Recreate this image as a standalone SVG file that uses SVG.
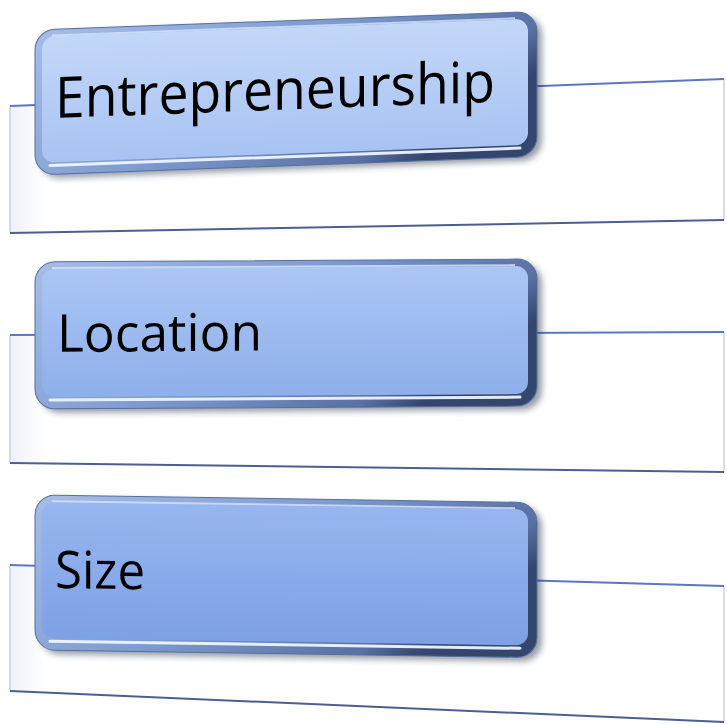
<svg xmlns="http://www.w3.org/2000/svg" width="727" height="724" viewBox="0 0 727 724">
  <style>
    .panel { fill: url(#panelFill); stroke: none; }
    .ptop { stroke: #5a78bd; stroke-width: 2; fill: none; }
    .pbot { stroke: #4b5f90; stroke-width: 2; fill: none; }
    .pside { stroke: #c9d1e0; stroke-width: 1.5; fill: none; }
    .bezel { fill: url(#bezel); stroke: #56709f; stroke-width: 1; }
    .shadow { fill: #1d2840; opacity: 0.45; filter: url(#blur); }
    .hl { fill: none; stroke: #eef4ff; stroke-width: 3; stroke-linecap: round; opacity: 0.95; }
    .hlTop { fill: none; stroke: #d6e3fa; stroke-width: 2; opacity: 0.8; }
    .label { font-family: "Open Sans", "Noto Sans", "Liberation Sans", sans-serif; fill: #000; }
  </style>
  <defs>
    <filter id="blur" x="-10%" y="-10%" width="120%" height="130%">
      <feGaussianBlur stdDeviation="3"/>
    </filter>
    <linearGradient id="panelFill" x1="0" y1="0" x2="1" y2="0">
      <stop offset="0" stop-color="#eef1f6"/>
      <stop offset="0.05" stop-color="#ffffff"/>
      <stop offset="1" stop-color="#ffffff"/>
    </linearGradient>
    <linearGradient id="bezel" x1="0" y1="0" x2="1" y2="0.4">
      <stop offset="0" stop-color="#a7bde6"/>
      <stop offset="0.5" stop-color="#7f9dd2"/>
      <stop offset="0.9" stop-color="#5870a3"/>
      <stop offset="1" stop-color="#34466e"/>
    </linearGradient>
    <linearGradient id="face1" x1="0" y1="0" x2="0" y2="1">
      <stop offset="0" stop-color="#c3d7f8"/>
      <stop offset="1" stop-color="#a8c3f2"/>
    </linearGradient>
    <linearGradient id="face2" x1="0" y1="0" x2="0" y2="1">
      <stop offset="0" stop-color="#abc6f5"/>
      <stop offset="1" stop-color="#8fafea"/>
    </linearGradient>
    <linearGradient id="face3" x1="0" y1="0" x2="0" y2="1">
      <stop offset="0" stop-color="#97b6f0"/>
      <stop offset="1" stop-color="#7ea1e4"/>
    </linearGradient>
  </defs>

  <g id="node-entrepreneurship">
    <polygon class="panel" points="10,106 724,79 724,220 10,233"/>
    <line class="pside" x1="10" y1="106" x2="10" y2="233"/>
    <line class="pside" x1="724" y1="79" x2="724" y2="220"/>
    <line class="ptop" x1="10" y1="106" x2="724" y2="79"/>
    <line class="pbot" x1="10" y1="233" x2="724" y2="220"/>
    <g transform="matrix(1 -0.037 0 1 0 1.3)">
      <rect class="shadow" x="40" y="34" width="502" height="145" rx="20"/>
      <rect class="bezel" x="35" y="30" width="502" height="145" rx="20"/>
      <rect x="42" y="37" width="486" height="126" rx="12" fill="url(#face1)"/>
      <path class="hl" d="M50,166 H520"/>
      <path class="hlTop" d="M52,36 H515"/>
      <text class="label" x="55" y="118.7" font-size="57" textLength="440" lengthAdjust="spacingAndGlyphs">Entrepreneurship</text>
    </g>
  </g>

  <g id="node-location">
    <polygon class="panel" points="10,335 724,332 724,472 10,463"/>
    <line class="pside" x1="10" y1="335" x2="10" y2="463"/>
    <line class="pside" x1="724" y1="332" x2="724" y2="472"/>
    <line class="ptop" x1="10" y1="335" x2="724" y2="332"/>
    <line class="pbot" x1="10" y1="463" x2="724" y2="472"/>
    <g transform="matrix(1 -0.006 0 1 0 0.2)">
      <rect class="shadow" x="40" y="266" width="502" height="147" rx="20"/>
      <rect class="bezel" x="35" y="262" width="502" height="147" rx="20"/>
      <rect x="42" y="269" width="486" height="128" rx="12" fill="url(#face2)"/>
      <path class="hl" d="M50,400 H520"/>
      <path class="hlTop" d="M52,268 H515"/>
      <text class="label" x="57" y="352" font-size="52" textLength="205" lengthAdjust="spacingAndGlyphs">Location</text>
    </g>
  </g>

  <g id="node-size">
    <polygon class="panel" points="10,565 724,586 724,722 10,691"/>
    <line class="pside" x1="10" y1="565" x2="10" y2="691"/>
    <line class="pside" x1="724" y1="586" x2="724" y2="722"/>
    <line class="ptop" x1="10" y1="565" x2="724" y2="586"/>
    <line class="pbot" x1="10" y1="691" x2="724" y2="722"/>
    <g transform="matrix(1 0.015 0 1 0 -0.5)">
      <rect class="shadow" x="40" y="499" width="502" height="155" rx="20"/>
      <rect class="bezel" x="35" y="495" width="502" height="155" rx="20"/>
      <rect x="42" y="502" width="486" height="136" rx="12" fill="url(#face3)"/>
      <path class="hl" d="M50,641 H520"/>
      <path class="hlTop" d="M52,501 H515"/>
      <text class="label" x="55" y="587.7" font-size="52" textLength="90" lengthAdjust="spacingAndGlyphs">Size</text>
    </g>
  </g>

  <g id="connectors"/>
</svg>
